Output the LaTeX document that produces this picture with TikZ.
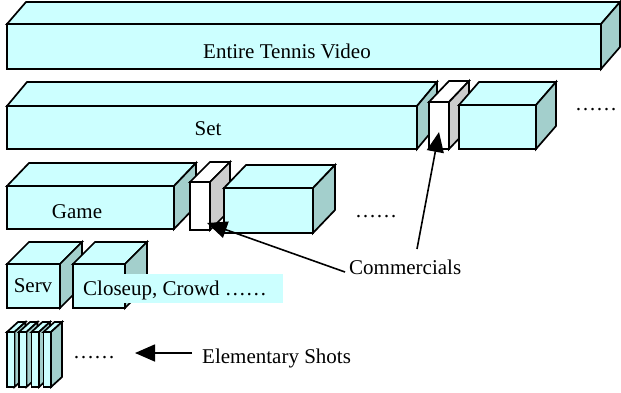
\documentclass[tikz,border=0pt]{standalone}
\usepackage{fontspec}
\setmainfont{Liberation Serif}
\usetikzlibrary{arrows.meta,calc}
\definecolor{cyfront}{HTML}{CCFFFF}
\definecolor{cyside}{HTML}{A3CFCC}
\definecolor{grside}{HTML}{CCCCCC}
% #1 x1, #2 y top, #3 x2, #4 y bottom, #5 dx, #6 dy(up), #7 front, #8 side, #9 top
\newcommand\mycuboid[9]{%
  \filldraw[boxline,fill=#9] (#1,#2) -- ++(#5,-#6) -- ++(#3-#1,0) -- (#3,#2) -- cycle;
  \filldraw[boxline,fill=#8] (#3,#2) -- ++(#5,-#6) -- ++(0,#4-#2) -- (#3,#4) -- cycle;
  \filldraw[boxline,fill=#7] (#1,#2) rectangle (#3,#4);
}
\begin{document}
\begin{tikzpicture}[x={(1pt,0pt)},y={(0pt,-1pt)},
  boxline/.style={draw=black,line width=1.7pt,line join=miter},
  lbl/.style={inner sep=0pt,font=\fontsize{21}{25}\selectfont},
  pointer/.style={line width=1.6pt,-{Triangle[length=20pt,width=17pt]}}]
\useasboundingbox (0,0) rectangle (621,392);
% Entire video
\mycuboid{7}{24}{601}{69}{19}{22}{cyfront}{cyside}{cyfront}
\node[lbl,anchor=base] (entire) at (287,58) {Entire Tennis Video};
% Set row
\mycuboid{7}{106}{417}{149}{20}{24}{cyfront}{cyside}{cyfront}
\mycuboid{429}{102}{449}{149}{20}{21}{white}{grside}{white}
\mycuboid{459}{105}{536}{149}{20}{23}{cyfront}{cyside}{cyfront}
\node[lbl,anchor=base] (set) at (208,135) {Set};
\node[lbl,anchor=base west] (setdots) at (575,110) {……};
% Game row
\mycuboid{7}{186}{174}{229}{22}{23}{cyfront}{cyside}{cyfront}
\mycuboid{190}{182}{210}{230}{20}{20}{white}{grside}{white}
\mycuboid{224}{188}{313}{233}{22}{23}{cyfront}{cyside}{cyfront}
\node[lbl,anchor=base] (game) at (77,218) {Game};
\node[lbl,anchor=base west] (gamedots) at (355,217) {……};
% Serv row
\mycuboid{7}{264}{60}{308}{22}{22}{cyfront}{cyside}{cyfront}
\mycuboid{73}{264}{125}{308}{22}{22}{cyfront}{cyside}{cyfront}
\node[lbl,anchor=base] (serv) at (33,292) {Serv};
\fill[cyfront] (77,274) rectangle (283,303);
\node[lbl,anchor=base west] (closeup) at (83,295) {Closeup, Crowd ……};
% Elementary shots
\mycuboid{7}{332}{14.5}{387}{11}{10}{cyfront}{cyside}{cyfront}
\mycuboid{19}{332}{26.5}{387}{11}{10}{cyfront}{cyside}{cyfront}
\mycuboid{31.5}{332}{39}{387}{11}{10}{cyfront}{cyside}{cyfront}
\mycuboid{43.5}{332}{51}{387}{11}{10}{cyfront}{cyside}{cyfront}
\node[lbl,anchor=base west] (shotdots) at (73,358) {……};
\node[lbl,anchor=base west] (elem) at (202,363) {Elementary Shots};
\node[lbl,anchor=base west] (comm) at (349,274) {Commercials};
% connectors
\coordinate (c1tip) at (439,132);
\coordinate (c2tip) at (207,223);
\coordinate (c1start) at (417,249);
\coordinate (c2start) at (345,272);
\coordinate (etip) at (135,353);
\coordinate (estart) at (192,353);
\draw[pointer] (c1start) -- (c1tip);
\draw[pointer] (c2start) -- (c2tip);
\draw[pointer] (estart) -- (etip);
\end{tikzpicture}
\end{document}
